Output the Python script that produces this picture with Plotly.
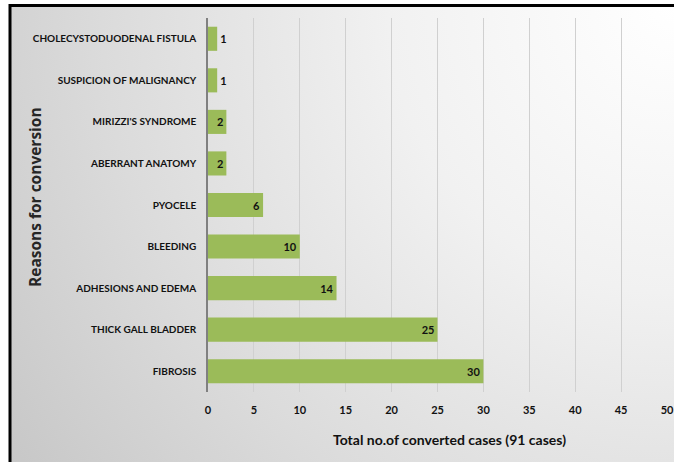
import base64
import plotly.graph_objects as go

reasons = ["FIBROSIS", "THICK GALL BLADDER", "ADHESIONS AND EDEMA", "BLEEDING", "PYOCELE",
           "ABERRANT ANATOMY", "MIRIZZI'S SYNDROME", "SUSPICION OF MALIGNANCY",
           "CHOLECYSTODUODENAL FISTULA"]
cases = [30, 25, 14, 10, 6, 2, 2, 1, 1]
x_ticks = [0, 5, 10, 15, 20, 25, 30, 35, 40, 45, 50]

narrow = "Lato, sans-serif"
positions = ["inside" if v >= 2 else "outside" for v in cases]

fig = go.Figure()
fig.add_trace(go.Bar(
    y=reasons, x=cases, orientation="h",
    marker=dict(color="#9bbb59", line=dict(width=0)),
    width=0.58,
    text=[str(v) for v in cases], textposition=positions,
    insidetextanchor="end", constraintext="none", cliponaxis=False,
    textfont=dict(family=narrow, size=11, color="#111111", weight="bold"),
    hoverinfo="skip",
))

svg = ('<svg xmlns="http://www.w3.org/2000/svg" width="674" height="462" viewBox="0 0 674 462">'
       '<defs><radialGradient id="g" gradientUnits="userSpaceOnUse" cx="674" cy="0" r="830">'
       '<stop offset="0" stop-color="#ffffff"/>'
       '<stop offset="0.35" stop-color="#f1f1f1"/>'
       '<stop offset="0.7" stop-color="#dbdbdb"/>'
       '<stop offset="1" stop-color="#c6c6c6"/>'
       '</radialGradient></defs>'
       '<rect x="0" y="0" width="674" height="462" fill="url(#g)"/></svg>')
src = "data:image/svg+xml;base64," + base64.b64encode(svg.encode()).decode()

L, R, T, B = 208, 667, 18, 392
pw, ph = R - L, B - T

def px(x):
    return (x - L) / pw

def py(y):
    return (B - y) / ph

fig.add_layout_image(dict(source=src, xref="paper", yref="paper",
                          x=px(10), y=py(5), sizex=664 / pw, sizey=457 / ph,
                          xanchor="left", yanchor="top", sizing="stretch",
                          layer="below"))

shapes = [
    dict(type="line", xref="paper", yref="paper", x0=px(9), x1=px(674),
         y0=py(5.5), y1=py(5.5), line=dict(color="#000000", width=3)),
    dict(type="line", xref="paper", yref="paper", x0=px(10), x1=px(10),
         y0=py(4), y1=py(462), line=dict(color="#000000", width=3)),
]

fig.update_layout(
    width=674, height=462,
    margin=dict(l=L, r=674 - R, t=T, b=462 - B, autoexpand=False),
    paper_bgcolor="#ffffff",
    plot_bgcolor="rgba(0,0,0,0)",
    showlegend=False,
    shapes=shapes,
    xaxis=dict(
        range=[0, 50], tickvals=x_ticks, ticktext=[str(t) for t in x_ticks],
        showgrid=True, gridcolor="#d0d0d0", gridwidth=1,
        zeroline=False, showline=False, ticks="", automargin=False,
        ticklabelstandoff=10,
        tickfont=dict(family=narrow, size=11, color="#111111", weight="bold"),
    ),
    yaxis=dict(
        categoryorder="array", categoryarray=reasons, automargin=False,
        showgrid=False, zeroline=False,
        showline=True, linecolor="#808080", linewidth=1.5,
        ticks="", ticklabelstandoff=8,
        tickfont=dict(family=narrow, size=10, color="#111111", weight="bold"),
    ),
    annotations=[
        dict(text="Total no.of converted cases (91 cases)", xref="paper", yref="paper",
             x=px(449), y=py(439), showarrow=False, xanchor="center", yanchor="middle",
             font=dict(family="Lato, sans-serif", size=14, color="#111111", weight="bold")),
        dict(text="Reasons for conversion", xref="paper", yref="paper", textangle=-90,
             x=px(35), y=py(197), showarrow=False, xanchor="center", yanchor="middle",
             font=dict(family="Open Sans, sans-serif", size=15.5, color="#262626", weight="bold")),
    ],
)

fig.write_html("out.html", post_script="document.body.style.margin='0';",
               config={"displayModeBar": False})
